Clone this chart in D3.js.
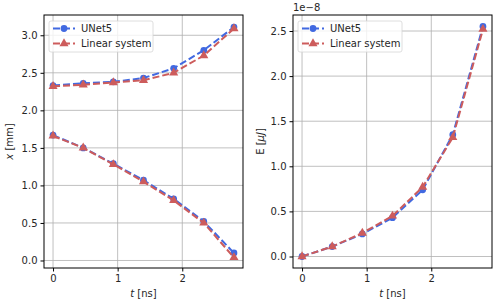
<!DOCTYPE html>
<html>
<head>
<meta charset="utf-8">
<script src="https://cdn.jsdelivr.net/npm/d3@7"></script>
<style>
body { margin: 0; background: #fff; }
svg { font-family: "DejaVu Sans", sans-serif; }
.grid line { stroke: #b0b0b0; stroke-width: 0.8px; }
</style>
</head>
<body>
<svg id="chart" width="499" height="307"></svg>
<script>
// time samples [ns]
var t = [0, 0.467, 0.933, 1.4, 1.867, 2.333, 2.8];

// position [mm], two trajectories per model
var unetUpper = [2.33, 2.36, 2.38, 2.43, 2.56, 2.80, 3.11];
var unetLower = [1.67, 1.50, 1.29, 1.07, 0.82, 0.52, 0.10];
var linUpper = [2.32, 2.34, 2.37, 2.40, 2.50, 2.73, 3.09];
var linLower = [1.66, 1.50, 1.28, 1.05, 0.80, 0.50, 0.04];

// energy (x 1e-8)
var unetE = [0, 0.11, 0.25, 0.43, 0.74, 1.35, 2.55];
var linE = [0, 0.11, 0.26, 0.45, 0.77, 1.32, 2.52];

var xTicks = [0, 1, 2];
var leftYTicks = [0, 0.5, 1.0, 1.5, 2.0, 2.5, 3.0];
var rightYTicks = [0, 0.5, 1.0, 1.5, 2.0, 2.5];

var blue = "#4169e1", red = "#cd5c5c";
var svg = d3.select("#chart");

function panel(opts) {
  var g = svg.append("g");
  var x = d3.scaleLinear().domain([-0.14, 2.94]).range([opts.x0, opts.x1]);
  var y = d3.scaleLinear().domain(opts.ydom).range([opts.y1, opts.y0]);

  // grid
  var grid = g.append("g").attr("class", "grid");
  grid.selectAll(".gx").data(xTicks).enter().append("line")
      .attr("x1", function(d) { return x(d); }).attr("x2", function(d) { return x(d); })
      .attr("y1", opts.y0).attr("y2", opts.y1);
  grid.selectAll(".gy").data(opts.yticks).enter().append("line")
      .attr("y1", function(d) { return y(d); }).attr("y2", function(d) { return y(d); })
      .attr("x1", opts.x0).attr("x2", opts.x1);

  var line = d3.line()
      .x(function(d, i) { return x(t[i]); })
      .y(function(d) { return y(d); });

  var series = [
    {vals: opts.blue, color: blue, shape: d3.symbolCircle},
    {vals: opts.red, color: red, shape: d3.symbolTriangle}
  ];
  series.forEach(function(s) {
    s.vals.forEach(function(v) {
      g.append("path").datum(v)
          .attr("d", line)
          .attr("fill", "none")
          .attr("stroke", s.color)
          .attr("stroke-width", 2)
          .attr("stroke-dasharray", "7,3");
      g.selectAll(null).data(v).enter().append("path")
          .attr("d", d3.symbol().type(s.shape).size(36))
          .attr("transform", function(d, i) { return "translate(" + x(t[i]) + "," + y(d) + ")"; })
          .attr("fill", s.color);
    });
  });

  // spines
  g.append("rect")
      .attr("x", opts.x0).attr("y", opts.y0)
      .attr("width", opts.x1 - opts.x0).attr("height", opts.y1 - opts.y0)
      .attr("fill", "none").attr("stroke", "#000").attr("stroke-width", 1);

  // axes
  var ax = g.append("g").attr("transform", "translate(0," + opts.y1 + ")")
      .call(d3.axisBottom(x).tickValues(xTicks).tickFormat(d3.format("d")).tickSize(3.5).tickPadding(3));
  var ay = g.append("g").attr("transform", "translate(" + opts.x0 + ",0)")
      .call(d3.axisLeft(y).tickValues(opts.yticks).tickFormat(d3.format(".1f")).tickSize(3.5).tickPadding(3));
  [ax, ay].forEach(function(a) {
    a.select(".domain").remove();
    a.selectAll("text").attr("font-size", 10).attr("font-family", "DejaVu Sans").attr("fill", "#262626");
    a.selectAll("line").attr("stroke", "#000");
  });

  // x label
  var xl = g.append("text")
      .attr("x", (opts.x0 + opts.x1) / 2).attr("y", 297)
      .attr("text-anchor", "middle").attr("font-size", 10).attr("fill", "#262626");
  xl.append("tspan").attr("font-style", "italic").text("t");
  xl.append("tspan").text(" [ns]");

  // y label
  var yl = g.append("text")
      .attr("transform", "translate(" + opts.ylx + "," + ((opts.y0 + opts.y1) / 2) + ") rotate(-90)")
      .attr("text-anchor", "middle").attr("font-size", 10).attr("fill", "#262626");
  opts.ylabel(yl);

  // legend
  var lg = g.append("g").attr("transform", "translate(" + (opts.x0 + 5) + "," + (opts.y0 + 6) + ")");
  lg.append("rect").attr("width", 104).attr("height", 31).attr("rx", 2)
      .attr("fill", "#fff").attr("fill-opacity", 0.8).attr("stroke", "#d6d6d6").attr("stroke-width", 0.8);
  [["UNet5", blue, d3.symbolCircle], ["Linear system", red, d3.symbolTriangle]].forEach(function(e, i) {
    var yy = 7.5 + i * 15;
    lg.append("line").attr("x1", 4).attr("x2", 26).attr("y1", yy).attr("y2", yy)
        .attr("stroke", e[1]).attr("stroke-width", 2).attr("stroke-dasharray", "7,3");
    lg.append("path").attr("d", d3.symbol().type(e[2]).size(36)())
        .attr("transform", "translate(15," + yy + ")").attr("fill", e[1]);
    lg.append("text").attr("x", 32).attr("y", yy + 3.5).attr("font-size", 10)
        .attr("fill", "#262626").text(e[0]);
  });
  return g;
}

panel({
  x0: 44, x1: 243, y0: 15, y1: 268,
  ydom: [-0.1, 3.27], yticks: leftYTicks,
  blue: [unetUpper, unetLower], red: [linUpper, linLower],
  ylx: 13,
  ylabel: function(el) {
    el.append("tspan").attr("font-style", "italic").text("x");
    el.append("tspan").text(" [mm]");
  }
});

panel({
  x0: 293, x1: 492, y0: 15, y1: 268,
  ydom: [-0.1275, 2.6775], yticks: rightYTicks,
  blue: [unetE], red: [linE],
  ylx: 264,
  ylabel: function(el) {
    el.append("tspan").text("E [");
    el.append("tspan").attr("font-style", "italic").text("μJ");
    el.append("tspan").text("]");
  }
});

svg.append("text").attr("x", 293).attr("y", 11).attr("font-size", 10)
    .attr("fill", "#262626").text("1e−8");
</script>
</body>
</html>
